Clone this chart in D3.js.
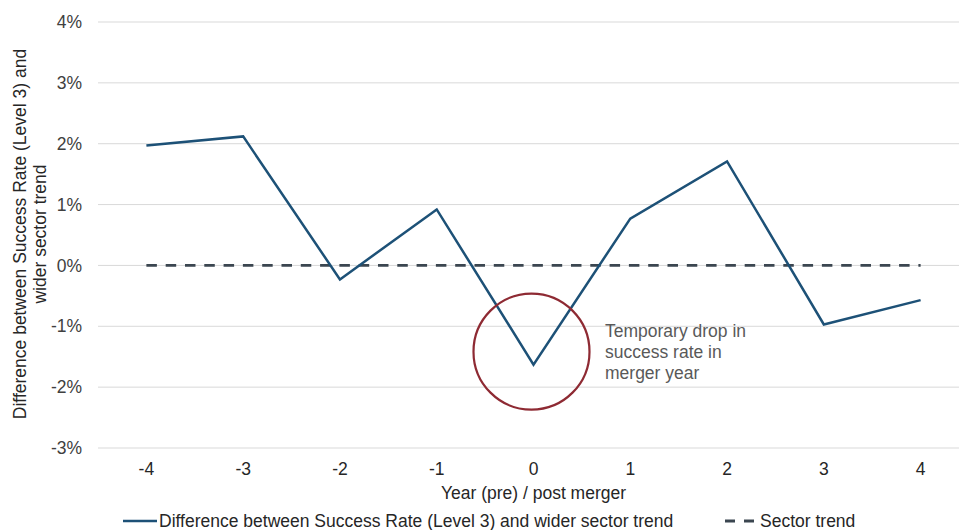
<!DOCTYPE html>
<html>
<head>
<meta charset="utf-8">
<script src="https://cdn.jsdelivr.net/npm/d3@7"></script>
<style>
    body { margin: 0; background: #fff; }
    text { font-family: "Liberation Sans", Arial, sans-serif; }
</style>
</head>
<body>
<div id="chart"></div>
<script>
// Data
const years = ["-4", "-3", "-2", "-1", "0", "1", "2", "3", "4"];
const difference = [1.97, 2.12, -0.23, 0.92, -1.63, 0.77, 1.71, -0.97, -0.57];
const sectorTrend = [0, 0, 0, 0, 0, 0, 0, 0, 0];
const yTicks = [-3, -2, -1, 0, 1, 2, 3, 4];
const seriesNames = ["Difference between Success Rate (Level 3) and wider sector trend", "Sector trend"];
const highlightYear = "0";
const annotationLines = ["Temporary drop in", "success rate in", "merger year"];

const width = 959;
const height = 530;
const marginLeft = 98;
const plotRight = 969;
const plotTop = 22;
const plotBottom = 448;
const fontSize = "17.5px";

const svg = d3.select("#chart").append("svg")
    .attr("width", width)
    .attr("height", height);

const x = d3.scaleBand()
    .domain(years)
    .range([marginLeft, plotRight]);

const y = d3.scaleLinear()
    .domain([-3, 4])
    .range([plotBottom, plotTop]);

const cx = d => x(d) + x.bandwidth() / 2;

// Gridlines
svg.append("g")
    .selectAll("line")
    .data(yTicks)
    .join("line")
    .attr("x1", marginLeft)
    .attr("x2", width)
    .attr("y1", d => y(d))
    .attr("y2", d => y(d))
    .attr("stroke", "#d9d9d9")
    .attr("stroke-width", 1);

// Y axis labels
svg.append("g")
    .selectAll("text")
    .data(yTicks)
    .join("text")
    .attr("x", 82)
    .attr("y", d => y(d))
    .attr("dy", "0.35em")
    .attr("text-anchor", "end")
    .attr("font-size", fontSize)
    .attr("fill", "#404040")
    .text(d => d + "%");

// X axis labels
svg.append("g")
    .selectAll("text")
    .data(years)
    .join("text")
    .attr("x", d => cx(d))
    .attr("y", 475)
    .attr("text-anchor", "middle")
    .attr("font-size", fontSize)
    .attr("fill", "#262626")
    .text(d => d);

// Axis titles
svg.append("text")
    .attr("x", (marginLeft + plotRight) / 2)
    .attr("y", 499)
    .attr("text-anchor", "middle")
    .attr("font-size", fontSize)
    .attr("fill", "#262626")
    .text("Year (pre) / post merger");

const yTitle = svg.append("text")
    .attr("transform", "translate(26,234) rotate(-90)")
    .attr("text-anchor", "middle")
    .attr("font-size", fontSize)
    .attr("fill", "#262626");
yTitle.append("tspan").attr("x", 0).attr("y", 0).text("Difference between Success Rate (Level 3) and");
yTitle.append("tspan").attr("x", 0).attr("y", 20).text("wider sector trend");

// Sector trend (dashed)
const line = d3.line()
    .x((d, i) => cx(years[i]))
    .y(d => y(d));

svg.append("path")
    .datum(sectorTrend)
    .attr("fill", "none")
    .attr("stroke", "#3b4650")
    .attr("stroke-width", 2.8)
    .attr("stroke-dasharray", "10.5,8.8")
    .attr("d", line);

// Difference series
svg.append("path")
    .datum(difference)
    .attr("fill", "none")
    .attr("stroke", "#1d5177")
    .attr("stroke-width", 2.5)
    .attr("stroke-linejoin", "miter")
    .attr("d", line);

// Highlight circle around merger year
const hi = years.indexOf(highlightYear);
svg.append("circle")
    .attr("cx", cx(highlightYear) - 2)
    .attr("cy", y(difference[hi]) - 13)
    .attr("r", 58)
    .attr("fill", "none")
    .attr("stroke", "#8e2a33")
    .attr("stroke-width", 2.2);

// Annotation
svg.append("g")
    .selectAll("text")
    .data(annotationLines)
    .join("text")
    .attr("x", 605)
    .attr("y", (d, i) => 337 + i * 21)
    .attr("font-size", fontSize)
    .attr("fill", "#595959")
    .text(d => d);

// Legend
const legend = svg.append("g");
legend.append("line")
    .attr("x1", 123).attr("x2", 157)
    .attr("y1", 521).attr("y2", 521)
    .attr("stroke", "#1d5177")
    .attr("stroke-width", 2.5);
legend.append("text")
    .attr("x", 159).attr("y", 521)
    .attr("dy", "0.35em")
    .attr("font-size", fontSize)
    .attr("fill", "#262626")
    .text(seriesNames[0]);
legend.append("line")
    .attr("x1", 725).attr("x2", 754)
    .attr("y1", 521).attr("y2", 521)
    .attr("stroke", "#3b4650")
    .attr("stroke-width", 2.8)
    .attr("stroke-dasharray", "10,9");
legend.append("text")
    .attr("x", 760).attr("y", 521)
    .attr("dy", "0.35em")
    .attr("font-size", fontSize)
    .attr("fill", "#262626")
    .text(seriesNames[1]);
</script>
</body>
</html>
